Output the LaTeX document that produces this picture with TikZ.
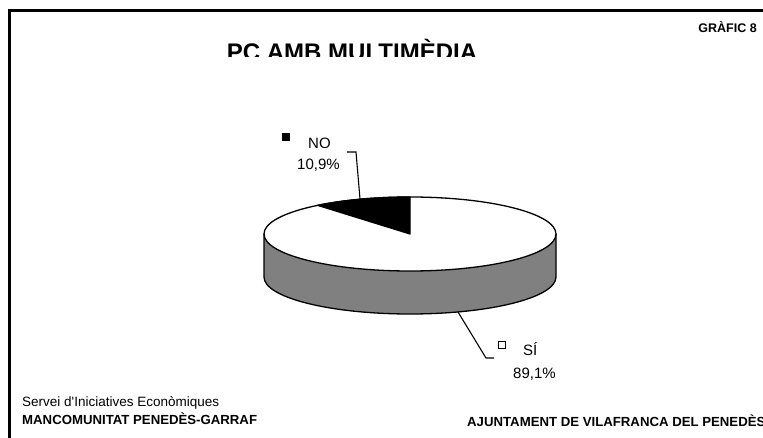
\documentclass[tikz,border=0pt]{standalone}
\usepackage{fontspec}
\setmainfont{Liberation Sans}
\begin{document}
\begin{tikzpicture}[x=1pt,y=-1pt,
  outline/.style={draw=black,line width=1.3pt,line join=round},
  leader/.style={draw=black,line width=1.1pt},
  lbl/.style={inner sep=0pt,anchor=base west,font=\fontsize{15}{15}\selectfont},
  foot/.style={inner sep=0pt,anchor=base west,font=\fontsize{13.5}{13.5}\selectfont},
  footb/.style={inner sep=0pt,anchor=base west,font=\fontsize{13.2}{13.2}\selectfont\bfseries},
  marker/.style={draw=black,line width=1pt,minimum size=7pt,inner sep=0pt}]
\useasboundingbox (0,0) rectangle (763,438);
% frame
\draw[line width=2.2pt] (9.5,440) -- (9.5,10.5) -- (765,10.5);
% title (clipped at bottom)
\begin{scope}
\clip (0,0) rectangle (763,56.5);
\node[inner sep=0pt,anchor=base,font=\fontsize{24}{24}\selectfont\bfseries] (title) at (352,61) {PC AMB MULTIMÈDIA};
\end{scope}
\node[inner sep=0pt,anchor=base east,font=\fontsize{12.5}{12.5}\selectfont\bfseries] (graf) at (757,32.3) {GRÀFIC 8};
% pie side
\fill[black!50] (264,234) -- (264,277) arc[start angle=180,end angle=360,x radius=146pt,y radius=37pt]
  -- (556,234) arc[start angle=0,end angle=-180,x radius=146pt,y radius=37pt] -- cycle;
\draw[outline] (264,234) -- (264,277) arc[start angle=180,end angle=360,x radius=146pt,y radius=37pt] -- (556,234);
% top face
\filldraw[outline,fill=white] (410,234) ellipse[x radius=146pt,y radius=37pt];
\filldraw[outline,fill=black] (410,234) -- (410,197) arc[start angle=90,end angle=129.24,x radius=146pt,y radius=37pt] -- cycle;
% NO label
\coordinate (noA) at (360,199);
\coordinate (noB) at (356,152);
\coordinate (noC) at (347,152);
\draw[leader] (noA) -- (noB) -- (noC);
\node[marker,fill=black] (nomark) at (286,137) {};
\node[lbl] (notxt) at (308,149) {NO};
\node[lbl] (nopct) at (297,170) {10,9\%};
% SI label
\coordinate (siA) at (458,312);
\coordinate (siB) at (486,358);
\coordinate (siC) at (494,358);
\draw[leader] (siA) -- (siB) -- (siC);
\node[marker,fill=white] (simark) at (502,344.5) {};
\node[lbl] (sitxt) at (523,355) {SÍ};
\node[lbl] (sipct) at (513,378) {89,1\%};
% footer
\node[foot] (serv) at (22,406.7) {Servei d\textquotesingle Iniciatives Econòmiques};
\node[footb] (manc) at (22,424.5) {MANCOMUNITAT PENEDÈS-GARRAF};
\node[footb] (ajun) at (467,426) {AJUNTAMENT DE VILAFRANCA DEL PENEDÈS};
\end{tikzpicture}
\end{document}
